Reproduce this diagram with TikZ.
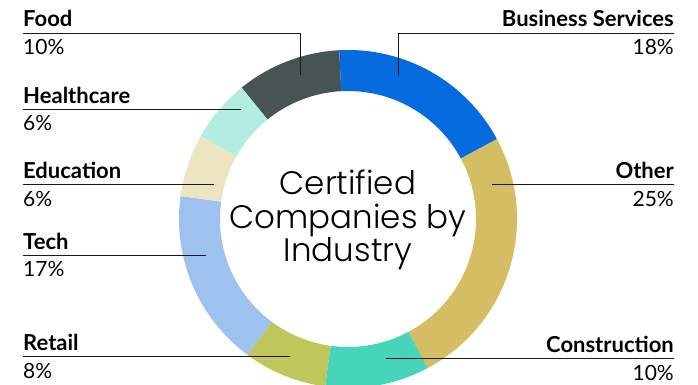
\documentclass[tikz,border=0pt]{standalone}
\usepackage{fontspec}
\setmainfont{Lato}
\newfontfamily\titlefont{Poppins}[UprightFont=* Light]
\usetikzlibrary{calc}

\definecolor{foodcol}{HTML}{475453}
\definecolor{buscol}{HTML}{066BDF}
\definecolor{othercol}{HTML}{D4BD62}
\definecolor{conscol}{HTML}{46D5B8}
\definecolor{retailcol}{HTML}{BFC65A}
\definecolor{techcol}{HTML}{9EC2F0}
\definecolor{educol}{HTML}{EDE4C2}
\definecolor{healthcol}{HTML}{B3ECE1}

\newcommand{\ringpart}[3]{%
  \fill[#3] (#1:169) arc[start angle=#1, end angle=#2, radius=169]
    -- (#2:128) arc[start angle=#2, end angle=#1, radius=128] -- cycle;}

\tikzset{
  lab/.style={font=\fontsize{22}{24}\selectfont\bfseries, inner sep=0pt},
  pct/.style={font=\fontsize{21}{24}\selectfont, inner sep=0pt},
  leader/.style={draw=black!90, line width=0.9pt}
}

\begin{document}
\begin{tikzpicture}[x=1pt, y=-1pt]
    \useasboundingbox (0,0) rectangle (698,385);

    % Ring
    \begin{scope}[shift={(348,219)}, y=1pt]
        \ringpart{129}{93}{foodcol}
        \ringpart{93}{28.2}{buscol}
        \ringpart{28.2}{-61.8}{othercol}
        \ringpart{-61.8}{-97.8}{conscol}
        \ringpart{-97.8}{-126.6}{retailcol}
        \ringpart{-126.6}{-187.8}{techcol}
        \ringpart{-187.8}{-209.4}{educol}
        \ringpart{-209.4}{-231}{healthcol}
    \end{scope}

    % Title
    \node[font=\titlefont\fontsize{32.5}{33.5}\selectfont, align=center] (title) at (348,220)
        {Certified\\Companies by\\Industry};

    % Left labels
    \node[lab, anchor=base west] (food) at (23,27) {Food};
    \node[pct, anchor=base west] (foodpct) at (23,55) {10\%};
    \node[lab, anchor=base west] (health) at (23,103) {Healthcare};
    \node[pct, anchor=base west] (healthpct) at (23,131) {6\%};
    \node[lab, anchor=base west] (edu) at (23,178) {Education};
    \node[pct, anchor=base west] (edupct) at (23,206) {6\%};
    \node[lab, anchor=base west] (tech) at (23,249) {Tech};
    \node[pct, anchor=base west] (techpct) at (23,276) {17\%};
    \node[lab, anchor=base west] (retail) at (23,350) {Retail};
    \node[pct, anchor=base west] (retailpct) at (23,378) {8\%};

    % Right labels
    \node[lab, anchor=base east] (bus) at (674,27) {Business Services};
    \node[pct, anchor=base east] (buspct) at (674,55) {18\%};
    \node[lab, anchor=base east] (other) at (674,178) {Other};
    \node[pct, anchor=base east] (otherpct) at (674,206) {25\%};
    \node[lab, anchor=base east] (cons) at (674,352) {Construction};
    \node[pct, anchor=base east] (conspct) at (674,380) {10\%};

    % Leader lines
    \coordinate (foodstart) at (23,33.5);
    \coordinate (foodtip) at (300,75);
    \coordinate (healthstart) at (23,109);
    \coordinate (healthtip) at (241,109);
    \coordinate (edustart) at (23,184);
    \coordinate (edutip) at (214,184);
    \coordinate (techstart) at (23,255);
    \coordinate (techtip) at (206,255);
    \coordinate (retailstart) at (23,356);
    \coordinate (retailtip) at (290,356);
    \coordinate (busstart) at (674,33.5);
    \coordinate (bustip) at (398,76);
    \coordinate (otherstart) at (674,184);
    \coordinate (othertip) at (492,184);
    \coordinate (consstart) at (674,358);
    \coordinate (constip) at (386,358);

    \draw[leader] (foodstart) -| (foodtip);
    \draw[leader] (healthstart) -- (healthtip);
    \draw[leader] (edustart) -- (edutip);
    \draw[leader] (techstart) -- (techtip);
    \draw[leader] (retailstart) -- (retailtip);
    \draw[leader] (busstart) -| (bustip);
    \draw[leader] (otherstart) -- (othertip);
    \draw[leader] (consstart) -- (constip);
\end{tikzpicture}
\end{document}
